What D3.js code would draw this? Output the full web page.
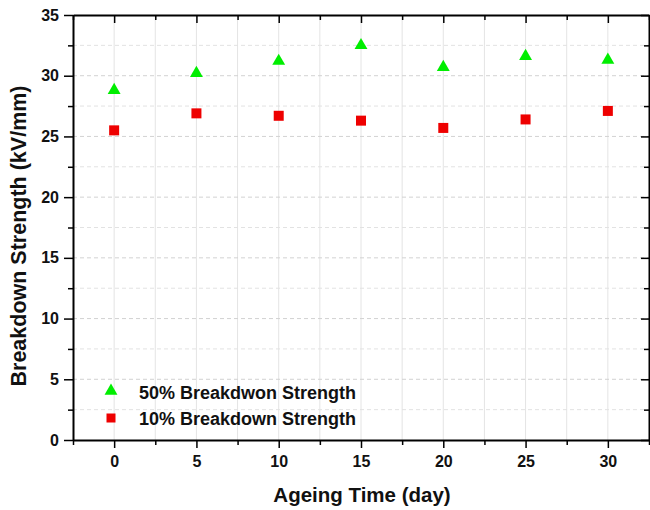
<!DOCTYPE html>
<html>
<head>
<meta charset="utf-8">
<script src="https://cdn.jsdelivr.net/npm/d3@7"></script>
<style>
  body { margin: 0; background: #fff; }
  text { font-family: "Liberation Sans", Arial, sans-serif; font-weight: bold; }
</style>
</head>
<body>
<div id="chart"></div>
<script>
/* breakdown strength vs ageing time */

const days = [0, 5, 10, 15, 20, 25, 30];
const strength50 = [28.8, 30.2, 31.2, 32.5, 30.7, 31.6, 31.3];
const strength10 = [25.5, 26.9, 26.7, 26.3, 25.7, 26.4, 27.1];
const seriesNames = ["50% Breakdwon Strength", "10% Breakdown Strength"];
const xTicks = [0, 5, 10, 15, 20, 25, 30];
const yTicks = [0, 5, 10, 15, 20, 25, 30, 35];

const width = 650,
      height = 510,
      margin = ({ top: 15, right: 1, bottom: 70, left: 73 });

let svg = d3.select("#chart")
    .append("svg")
    .attr("width", width)
    .attr("height", height);

let x = d3.scaleLinear()
    .domain([-2.5, 32.5])
    .range([margin.left, width - margin.right]);

let y = d3.scaleLinear()
    .domain([0, 35])
    .range([height - margin.bottom, margin.top]);

const xMinor = d3.range(-2.5, 32.6, 2.5);
const yMinor = d3.range(2.5, 35, 2.5);

/* grid */
svg.append("g")
    .selectAll("line")
    .data(xMinor.filter(d => d > -2.5 && d < 32.5))
    .join("line")
    .attr("x1", d => x(d)).attr("x2", d => x(d))
    .attr("y1", y(0)).attr("y2", y(35))
    .attr("stroke", "#e4e4e4")
    .attr("stroke-width", 1);

svg.append("g")
    .selectAll("line")
    .data(yMinor)
    .join("line")
    .attr("x1", x(-2.5)).attr("x2", x(32.5))
    .attr("y1", d => y(d)).attr("y2", d => y(d))
    .attr("stroke", d => d % 5 === 0 ? "#d2d2d2" : "#e2e2e2")
    .attr("stroke-dasharray", "4,3")
    .attr("stroke-width", 1);

/* axes */
const isMajor = d => Math.abs(d % 5) < 1e-9;

svg.append("g")
    .attr("transform", `translate(0, ${y(0)})`)
    .call(d3.axisBottom(x).tickValues(xMinor).tickSize(0).tickFormat(""))
    .call(g => g.select(".domain").attr("stroke-width", 2))
    .call(g => g.selectAll(".tick line").attr("y2", d => isMajor(d) ? 8 : 5).attr("stroke-width", 1.5));

svg.append("g")
    .attr("transform", `translate(0, ${y(0)})`)
    .call(d3.axisBottom(x).tickValues(xTicks).tickSize(0).tickPadding(16))
    .call(g => g.select(".domain").remove())
    .call(g => g.selectAll("text").attr("font-size", 16).attr("fill", "#111"));

svg.append("g")
    .attr("transform", `translate(0, ${y(35)})`)
    .call(d3.axisTop(x).tickValues(xMinor).tickSize(0).tickFormat(""))
    .call(g => g.select(".domain").attr("stroke-width", 2))
    .call(g => g.selectAll(".tick line").attr("y2", d => isMajor(d) ? 8 : 5).attr("stroke-width", 1.5));

svg.append("g")
    .attr("transform", `translate(${x(-2.5)}, 0)`)
    .call(d3.axisLeft(y).tickValues(d3.range(0, 35.1, 2.5)).tickSize(0).tickFormat(""))
    .call(g => g.select(".domain").attr("stroke-width", 2))
    .call(g => g.selectAll(".tick line").attr("x2", d => isMajor(d) ? -9 : -5).attr("stroke-width", 1.5));

svg.append("g")
    .attr("transform", `translate(${x(-2.5)}, 0)`)
    .call(d3.axisLeft(y).tickValues(yTicks).tickSize(0).tickPadding(14))
    .call(g => g.select(".domain").remove())
    .call(g => g.selectAll("text").attr("font-size", 16).attr("fill", "#111"));

svg.append("g")
    .attr("transform", `translate(${x(32.5)}, 0)`)
    .call(d3.axisRight(y).tickValues(d3.range(0, 35.1, 2.5)).tickSize(0).tickFormat(""))
    .call(g => g.select(".domain").attr("stroke-width", 2))
    .call(g => g.selectAll(".tick line").attr("x2", d => isMajor(d) ? -8 : -5).attr("stroke-width", 1.5));

/* titles */
svg.append("text")
    .attr("x", x(15) + 1)
    .attr("y", 502)
    .attr("text-anchor", "middle")
    .attr("font-size", 20.5)
    .attr("fill", "#111")
    .text("Ageing Time (day)");

svg.append("text")
    .attr("transform", `translate(26, 236) rotate(-90)`)
    .attr("text-anchor", "middle")
    .attr("font-size", 21.5)
    .attr("fill", "#111")
    .text("Breakdown Strength (kV/mm)");

/* points */
const tri = d3.symbol().type(d3.symbolTriangle).size(72);

svg.append("g")
    .selectAll("path")
    .data(days.map((d, i) => [d, strength50[i]]))
    .join("path")
    .attr("d", tri)
    .attr("transform", d => `translate(${x(d[0])}, ${y(d[1])})`)
    .attr("fill", "#00ee00");

svg.append("g")
    .selectAll("rect")
    .data(days.map((d, i) => [d, strength10[i]]))
    .join("rect")
    .attr("x", d => x(d[0]) - 5)
    .attr("y", d => y(d[1]) - 5)
    .attr("width", 10)
    .attr("height", 10)
    .attr("fill", "#ee0000");

/* legend */
const legend = svg.append("g").attr("transform", "translate(111, 391)");

legend.append("path")
    .attr("d", tri)
    .attr("fill", "#00ee00");
legend.append("rect")
    .attr("x", -4.5).attr("y", 22.5)
    .attr("width", 9).attr("height", 9)
    .attr("fill", "#ee0000");

legend.selectAll("text")
    .data(seriesNames)
    .join("text")
    .attr("x", 28)
    .attr("y", (d, i) => i * 26 + 8)
    .attr("font-size", 18)
    .attr("fill", "#111")
    .text(d => d);
</script>
</body>
</html>
